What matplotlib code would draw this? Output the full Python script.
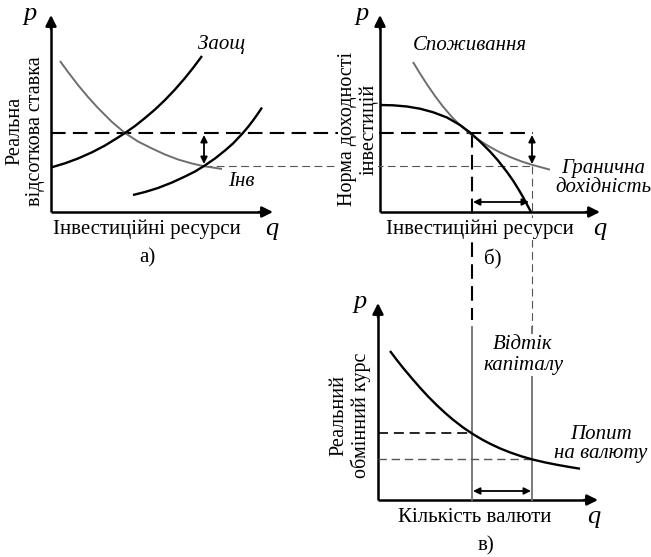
import matplotlib
matplotlib.use('Agg')
import matplotlib.pyplot as plt

plt.rcParams['font.family'] = ['Liberation Serif', 'DejaVu Serif']

# ---- дані кривих (локальні координати панелі: q вправо, p вгору) ----
# панель а)
zaoshch_q = [0, 14, 27, 41, 54, 67, 74, 84, 94, 104, 114, 124, 134, 142, 151]
zaoshch_p = [44.5, 48.7, 53.5, 59.7, 66.5, 74.5, 79, 86, 94, 102.5, 112, 122.5, 134, 144, 156]
inv_q = [9, 17, 27, 37, 47, 61, 74, 87, 101, 114, 127, 141, 152, 171]
inv_p = [151, 140, 127, 115, 104, 90, 79, 70.5, 63.5, 57.5, 52.5, 48.5, 46, 43]
zaoshch2_q = [82, 94, 107, 121, 134, 144, 153, 164, 174, 182, 191, 197, 202, 207, 211]
zaoshch2_p = [17, 20, 24, 29.5, 35.5, 40.5, 46, 53.5, 61.5, 68.5, 78, 85, 91.5, 98.5, 104.5]
# панель б)
dokhid_q = [0, 13, 27, 40, 53, 67, 80, 90, 100, 110, 118, 127, 133, 138, 143, 147, 151]
dokhid_p = [107, 106.7, 105.5, 103.3, 99.8, 94.5, 87, 79.5, 70.5, 60.5, 51.5, 40, 31.5,
            23.5, 15, 7.5, 0]
spozh_q = [33, 40, 47, 55, 63, 72, 80, 90, 100, 110, 120, 130, 142, 152, 170]
spozh_p = [150, 138.5, 127.6, 116, 105.4, 94.9, 86.9, 78.4, 71.2, 65, 59.6, 55, 50.4,
           47.2, 42.3]
# панель в)
popyt_q = [12, 19, 25, 34, 42, 50, 59, 67, 75, 85, 94, 104, 112, 122, 132,
           144, 155, 167, 179, 192, 202]
popyt_p = [149, 139.8, 132.2, 121.5, 112.3, 103.6, 94.6, 87.2, 80.3, 72.6, 66.5, 60.5,
           56.3, 51.6, 47.6, 43.5, 40.4, 37.6, 35.2, 32.9, 31.3]

# початки координат панелей і кінці осей (пікселі)
orig = {'a': (51, 212), 'b': (380, 212), 'c': (378, 500)}
tips = {'a': (273, 15), 'b': (600, 15), 'c': (598, 303)}

GRAY = '#6e6e6e'
fig = plt.figure(figsize=(6.51, 5.57), dpi=100)
ax = fig.add_axes([0, 0, 1, 1])
ax.set_xlim(0, 651)
ax.set_ylim(557, 0)
ax.axis('off')


def px(panel, q, p):
    ox, oy = orig[panel]
    return [ox + v for v in q], [oy - v for v in p]


def arrow(x0, y0, x1, y1, style='-|>', ms=16, lw=1.8):
    ax.annotate('', xy=(x1, y1), xytext=(x0, y0),
                arrowprops=dict(arrowstyle=style, mutation_scale=ms, lw=lw,
                                color='black', shrinkA=0, shrinkB=0))


# осі
for k in 'abc':
    ox, oy = orig[k]
    tx, ty = tips[k]
    ax.plot([ox, ox], [oy, ty + 10], color='black', lw=1.8, solid_capstyle='butt')
    ax.plot([ox, tx - 10], [oy, oy], color='black', lw=1.8, solid_capstyle='butt')
    arrow(ox, ty + 14, ox, ty)
    arrow(tx - 14, oy, tx, oy)

# допоміжні лінії
ax.plot([51, 533], [133, 133], color='black', lw=1.5, dashes=(7, 3.5))
ax.plot([204, 533], [166, 166], color='#555555', lw=0.8, dashes=(7, 4))
ax.plot([472, 472], [133, 320], color='black', lw=1.5, dashes=(7, 3.5))
ax.plot([532, 532], [166, 330], color='#555555', lw=0.8, dashes=(7, 4))
ax.plot([472, 472], [327, 500], color=GRAY, lw=1.3)
ax.plot([532, 532], [327, 500], color=GRAY, lw=1.3)
ax.plot([378, 472], [433, 433], color='black', lw=1.2, dashes=(6, 3.5))
ax.plot([378, 532], [459, 459], color='#555555', lw=1.0, dashes=(6, 3.5))

# криві
cv = dict(solid_joinstyle='round', solid_capstyle='butt')
ax.plot(*px('a', inv_q, inv_p), color=GRAY, lw=1.4, **cv)
ax.plot(*px('a', zaoshch_q, zaoshch_p), color='black', lw=1.7, **cv)
ax.plot(*px('a', zaoshch2_q, zaoshch2_p), color='black', lw=1.7, **cv)
ax.plot(*px('b', spozh_q, spozh_p), color=GRAY, lw=1.4, **cv)
ax.plot(*px('b', dokhid_q, dokhid_p), color='black', lw=1.7, **cv)
ax.plot(*px('c', popyt_q, popyt_p), color='black', lw=1.7, **cv)

# подвійні стрілки
arrow(204, 135, 204, 164, '<|-|>', 10, 1.3)
arrow(532, 135, 532, 164, '<|-|>', 10, 1.3)
arrow(473, 202, 529, 202, '<|-|>', 10, 1.3)
arrow(473, 491, 531, 491, '<|-|>', 10, 1.3)

fs = 15
white = dict(facecolor='white', edgecolor='none', pad=1)
it = dict(fontsize=fs, style='italic', ha='center', va='center')
ax.text(222, 45, 'Заощ', **it)
ax.text(241, 182, 'Інв', **it)
ax.text(470, 46, 'Споживання', **it)
ax.text(603, 178, 'Гранична\nдохідність', linespacing=1.0, **it)
ax.text(523, 355, 'Відтік\nкапіталу', linespacing=1.1, bbox=white, **it)
ax.text(601, 444, 'Попит\nна валюту', linespacing=1.0, **it)

nt = dict(fontsize=fs, ha='center', va='center')
ax.text(147, 229, 'Інвестиційні ресурси', **nt)
ax.text(480, 229, 'Інвестиційні ресурси', bbox=white, **nt)
ax.text(475, 517, 'Кількість валюти', **nt)
ax.text(147, 258, 'а)', **nt)
ax.text(493, 259, 'б)', **nt)
ax.text(486, 546, 'в)', **nt)
rt = dict(fontsize=14.5, rotation=90, linespacing=1.12, ha='center', va='center')
ax.text(25, 131, 'Реальна\nвідсоткова ставка', **rt)
ax.text(358, 129, 'Норма доходності\nінвестицій',
        bbox=dict(facecolor='white', edgecolor='none', pad=0), **rt)
ax.text(350, 415, 'Реальний\nобмінний курс', **rt)

pq = dict(fontsize=19, style='italic', ha='center', va='center')
for (x, y, s) in [(30, 14, 'p'), (362, 14, 'p'), (360, 302, 'p'),
                  (272, 229, 'q'), (600, 229, 'q'), (594, 517, 'q')]:
    ax.text(x, y, s, **pq)

fig.savefig('out.png', dpi=100)
